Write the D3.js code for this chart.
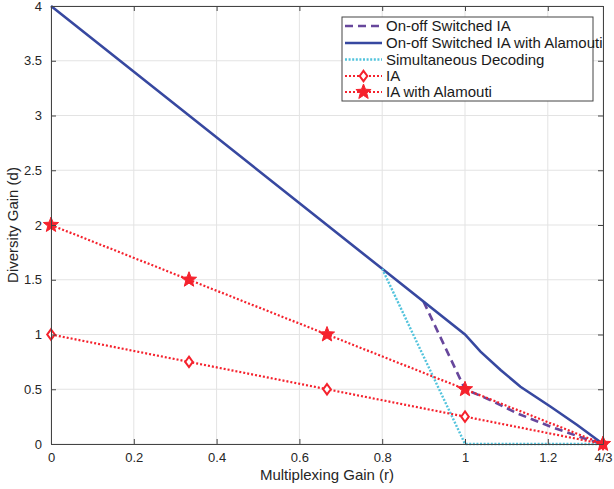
<!DOCTYPE html>
<html><head><meta charset="utf-8">
<script src="https://cdn.jsdelivr.net/npm/d3@7"></script>
<style>body{margin:0;background:#fff;} text{font-family:"Liberation Sans",Arial,sans-serif;}</style>
</head><body><svg id="c" width="614" height="489"></svg>
<script>
const xTicks = [0, 0.2, 0.4, 0.6, 0.8, 1, 1.2, 4/3];
const xTickLabels = ["0", "0.2", "0.4", "0.6", "0.8", "1", "1.2", "4/3"];
const yTicks = [0, 0.5, 1, 1.5, 2, 2.5, 3, 3.5, 4];
const yTickLabels = ["0", "0.5", "1", "1.5", "2", "2.5", "3", "3.5", "4"];

const onoffIA_r = [0.9, 1, 1.062, 1.126, 1.207, 1.287, 4/3];
const onoffIA_d = [1.3, 0.5, 0.40, 0.28, 0.158, 0.052, 0];
const onoffAla_r = [0, 0.8, 1, 1.0375, 1.086, 1.134, 1.207, 1.271, 4/3];
const onoffAla_d = [4, 1.6, 1, 0.843, 0.676, 0.523, 0.34, 0.174, 0];
const simDec_r = [0.8, 1, 4/3];
const simDec_d = [1.6, 0, 0];
const ia_r = [0, 1/3, 2/3, 1, 4/3];
const ia_d = [1, 0.75, 0.5, 0.25, 0];
const iaAla_r = [0, 1/3, 2/3, 1, 4/3];
const iaAla_d = [2, 1.5, 1, 0.5, 0];

const seriesNames = ["On-off Switched IA", "On-off Switched IA with Alamouti", "Simultaneous Decoding", "IA", "IA with Alamouti"];

const svg = d3.select("#c");
const L = 51, R = 603, T = 6, B = 444;
const x = d3.scaleLinear().domain([0, 4/3]).range([L, R]);
const y = d3.scaleLinear().domain([0, 4]).range([B, T]);

// grid
const g = svg.append("g");
g.selectAll(".gx").data(xTicks).enter().append("line")
  .attr("x1", d => x(d)).attr("x2", d => x(d)).attr("y1", T).attr("y2", B)
  .attr("stroke", "#e3e3e3").attr("stroke-width", 1);
g.selectAll(".gy").data(yTicks).enter().append("line")
  .attr("y1", d => y(d)).attr("y2", d => y(d)).attr("x1", L).attr("x2", R)
  .attr("stroke", "#e3e3e3").attr("stroke-width", 1);

// axes
const xAxis = d3.axisBottom(x).tickValues(xTicks).tickFormat((d, i) => xTickLabels[i]).tickSizeInner(-5).tickSizeOuter(0).tickPadding(9);
const yAxis = d3.axisLeft(y).tickValues(yTicks).tickFormat((d, i) => yTickLabels[i]).tickSizeInner(-5).tickSizeOuter(0).tickPadding(9);
const xTop = d3.axisTop(x).tickValues(xTicks).tickFormat("").tickSizeInner(-5).tickSizeOuter(0);
const yRight = d3.axisRight(y).tickValues(yTicks).tickFormat("").tickSizeInner(-5).tickSizeOuter(0);

function styleAxis(sel) {
  sel.selectAll("path").attr("stroke", "#444").attr("stroke-width", 1);
  sel.selectAll("line").attr("stroke", "#444");
  sel.selectAll("text").attr("fill", "#262626").attr("font-size", "13px").attr("font-family", "Liberation Sans, Arial, sans-serif");
}

// lines
const line = d3.line().x(d => x(d[0])).y(d => y(d[1]));
const zip = (a, b) => a.map((v, i) => [v, b[i]]);
const red = "#f5222d";

const plot = svg.append("g");
plot.append("path").attr("d", line(zip(onoffIA_r, onoffIA_d))).attr("fill", "none")
  .attr("stroke", "#67479c").attr("stroke-width", 2.6).attr("stroke-dasharray", "8,5");
plot.append("path").attr("d", line(zip(onoffAla_r, onoffAla_d))).attr("fill", "none")
  .attr("stroke", "#3748a0").attr("stroke-width", 2.6);
plot.append("path").attr("d", line(zip(simDec_r, simDec_d))).attr("fill", "none")
  .attr("stroke", "#52c3dc").attr("stroke-width", 2.4).attr("stroke-dasharray", "2,1.6");
plot.append("path").attr("d", line(zip(ia_r, ia_d))).attr("fill", "none")
  .attr("stroke", red).attr("stroke-width", 2.2).attr("stroke-dasharray", "2,2");
plot.append("path").attr("d", line(zip(iaAla_r, iaAla_d))).attr("fill", "none")
  .attr("stroke", red).attr("stroke-width", 2.2).attr("stroke-dasharray", "2,2");

function starPath(cx, cy, ro, ri) {
  let p = [];
  for (let k = 0; k < 10; k++) {
    const a = -Math.PI / 2 + k * Math.PI / 5;
    const r = k % 2 === 0 ? ro : ri;
    p.push([cx + r * Math.cos(a), cy + r * Math.sin(a)]);
  }
  return "M" + p.map(q => q.join(",")).join("L") + "Z";
}
function diamondPath(cx, cy, w, h) {
  return `M${cx},${cy - h}L${cx + w},${cy}L${cx},${cy + h}L${cx - w},${cy}Z`;
}

plot.selectAll(".dm").data(zip(ia_r, ia_d)).enter().append("path")
  .attr("d", d => diamondPath(x(d[0]), y(d[1]), 3.8, 5.2))
  .attr("fill", "#fff").attr("stroke", red).attr("stroke-width", 2);
plot.selectAll(".st").data(zip(iaAla_r, iaAla_d)).enter().append("path")
  .attr("d", d => starPath(x(d[0]), y(d[1]), 8, 3.4))
  .attr("fill", red).attr("stroke", red).attr("stroke-width", 1);

// axes on top
const ax = svg.append("g").attr("transform", `translate(0,${B})`).call(xAxis); styleAxis(ax);
const ay = svg.append("g").attr("transform", `translate(${L},0)`).call(yAxis); styleAxis(ay);
const at = svg.append("g").attr("transform", `translate(0,${T})`).call(xTop); styleAxis(at);
const ar = svg.append("g").attr("transform", `translate(${R},0)`).call(yRight); styleAxis(ar);
ax.selectAll("text").attr("dy", "0.71em");

// axis labels
svg.append("text").attr("x", (L + R) / 2).attr("y", 480).attr("text-anchor", "middle")
  .attr("font-size", "15px").attr("fill", "#262626").text("Multiplexing Gain (r)");
svg.append("text").attr("transform", `translate(18,${(T + B) / 2}) rotate(-90)`).attr("text-anchor", "middle")
  .attr("font-size", "15px").attr("fill", "#262626").text("Diversity Gain (d)");

// legend
const lg = svg.append("g");
lg.append("rect").attr("x", 342).attr("y", 17).attr("width", 251).attr("height", 84)
  .attr("fill", "#fff").attr("stroke", "#444").attr("stroke-width", 1);
const rows = [26, 43, 59.5, 76, 92];
const lx1 = 345, lx2 = 382;
const styles = [
  {c: "#67479c", w: 2.6, da: "8,5"},
  {c: "#3748a0", w: 2.6, da: null},
  {c: "#52c3dc", w: 2.4, da: "2,1.6"},
  {c: red, w: 2.2, da: "2,2", m: "d"},
  {c: red, w: 2.2, da: "2,2", m: "s"}
];
seriesNames.forEach((n, i) => {
  const s = styles[i];
  const l = lg.append("line").attr("x1", lx1).attr("x2", lx2).attr("y1", rows[i]).attr("y2", rows[i])
    .attr("stroke", s.c).attr("stroke-width", s.w);
  if (s.da) l.attr("stroke-dasharray", s.da);
  const mx = (lx1 + lx2) / 2;
  if (s.m === "d") lg.append("path").attr("d", diamondPath(mx, rows[i], 3.8, 5.2)).attr("fill", "#fff").attr("stroke", red).attr("stroke-width", 2);
  if (s.m === "s") lg.append("path").attr("d", starPath(mx, rows[i], 8, 3.4)).attr("fill", red).attr("stroke", red);
  lg.append("text").attr("x", 386).attr("y", rows[i]).attr("dy", "0.36em").attr("font-size", "15px")
    .attr("fill", "#1a1a1a").text(n);
});
</script></body></html>
